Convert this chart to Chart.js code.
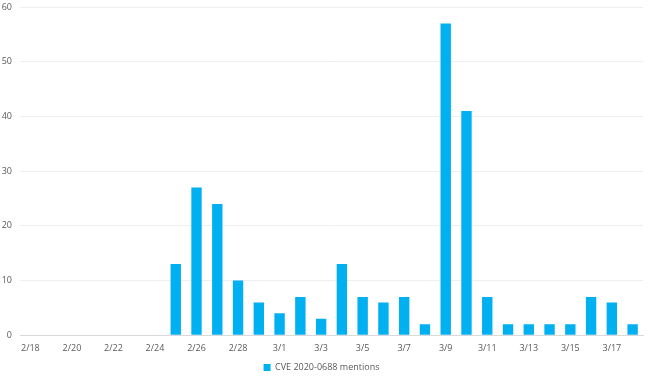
<!DOCTYPE html>
<html>
<head>
<meta charset="utf-8">
<script src="https://cdn.jsdelivr.net/npm/chart.js@4"></script>
<style>
  html, body { margin: 0; padding: 0; background: #fff; }
  #wrap { width: 650px; height: 378px; }
</style>
</head>
<body>
<div id="wrap"><canvas id="chart"></canvas></div>
<script>
// 날짜 (2020년 2/18 ~ 3/18)
const days = ['2/18','2/19','2/20','2/21','2/22','2/23','2/24','2/25','2/26','2/27','2/28','2/29',
              '3/1','3/2','3/3','3/4','3/5','3/6','3/7','3/8','3/9','3/10','3/11','3/12','3/13','3/14','3/15','3/16','3/17','3/18'];

// 언급 횟수
const mentions = [0,0,0,0,0,0,0,13,27,24,10,6,
                  4,7,3,13,7,6,7,2,57,41,7,2,2,2,2,7,6,2];

const seriesName = 'CVE 2020-0688 mentions';
const yTicks = [0, 10, 20, 30, 40, 50, 60];

const ctx = document.getElementById("chart").getContext("2d");
new Chart(ctx, {
    type: "bar",
    data: {
        labels: days,
        datasets: [{
            label: seriesName,
            data: mentions,
            backgroundColor: "#00B0F0",
            borderWidth: 0,
            categoryPercentage: 1,
            barPercentage: 0.5
        }]
    },
    options: {
        responsive: true,
        maintainAspectRatio: false,
        animation: false,
        layout: { padding: { top: 7, right: 7, left: 0, bottom: -4 } },
        plugins: {
            legend: {
                position: "bottom",
                labels: {
                    boxWidth: 7,
                    boxHeight: 7,
                    color: "#595959",
                    font: { family: "'Open Sans', sans-serif", size: 9 },
                    padding: 5
                }
            },
            tooltip: { enabled: false }
        },
        scales: {
            x: {
                grid: { display: false },
                border: { color: "#D9D9D9" },
                afterFit: function(axis) { axis.height += 4; },
                ticks: {
                    color: "#595959",
                    padding: 0,
                    font: { family: "'Open Sans', sans-serif", size: 9 },
                    maxRotation: 0,
                    autoSkip: false,
                    callback: function(v, i) { return i % 2 === 0 ? days[i] : ''; }
                }
            },
            y: {
                min: 0,
                max: 60,
                afterBuildTicks: function(axis) { axis.ticks = yTicks.map(v => ({ value: v })); },
                afterFit: function(axis) { axis.width = 20; axis.paddingTop = 0; },
                grid: { color: "#EEEEEE", drawTicks: false },
                border: { display: false },
                ticks: {
                    color: "#595959",
                    padding: 8,
                    font: { family: "'Open Sans', sans-serif", size: 9, lineHeight: 0.5 }
                }
            }
        }
    }
});
</script>
</body>
</html>
